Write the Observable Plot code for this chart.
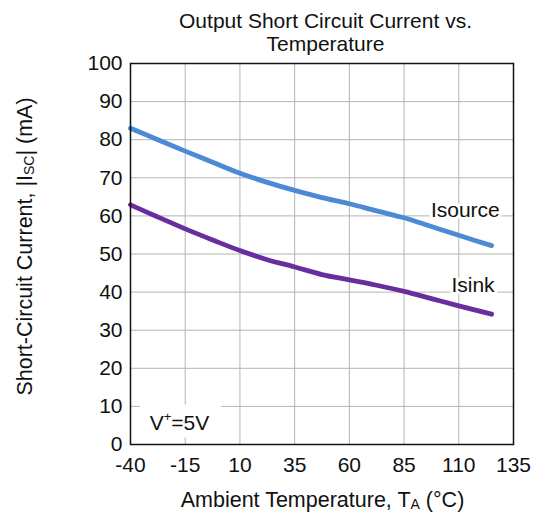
<!DOCTYPE html>
<html>
<head>
<meta charset="utf-8">
<script src="https://cdn.jsdelivr.net/npm/d3@7"></script>
<script src="https://cdn.jsdelivr.net/npm/@observablehq/plot@0.6"></script>
<style>
  html, body { margin: 0; padding: 0; background: #fff; }
  svg { font-family: "Liberation Sans", Arial, sans-serif; }
</style>
</head>
<body>
<div id="chart"></div>
<script>
const temps = [-40, -27.5, -15, -2.5, 10, 22.5, 35, 47.5, 60, 72.5, 85, 97.5, 110, 125];
const isource = [83, 80, 77, 74.1, 71.2, 68.8, 66.7, 64.8, 63.2, 61.3, 59.5, 57.2, 54.9, 52.2];
const isink = [62.9, 59.7, 56.6, 53.7, 50.9, 48.5, 46.6, 44.6, 43.2, 41.8, 40.2, 38.3, 36.4, 34.2];
const xTicks = [-40, -15, 10, 35, 60, 85, 110, 135];
const yTicks = [0, 10, 20, 30, 40, 50, 60, 70, 80, 90, 100];
const seriesLabels = [
  {name: "Isource", t: 113, v: 61.5},
  {name: "Isink", t: 116.5, v: 41.8}
];
const noteLabel = {t: -31, v: 3.8};

const rows = [];
temps.forEach((t, i) => {
  rows.push({t, v: isource[i], s: "Isource"});
  rows.push({t, v: isink[i], s: "Isink"});
});

const chart = Plot.plot({
  width: 541,
  height: 516,
  marginLeft: 130,
  marginRight: 28,
  marginTop: 63,
  marginBottom: 72,
  style: {fontFamily: "Liberation Sans, Arial, sans-serif", background: "#fff"},
  x: {domain: [-40, 135], ticks: xTicks, label: null},
  y: {domain: [0, 100], ticks: yTicks, label: null},
  color: {domain: ["Isource", "Isink"], range: ["#4d8ad5", "#6a2d9f"]},
  marks: [
    Plot.gridX(xTicks, {stroke: "#b4b4b4", strokeOpacity: 1, strokeWidth: 1}),
    Plot.gridY(yTicks, {stroke: "#b4b4b4", strokeOpacity: 1, strokeWidth: 1}),
    Plot.axisX(xTicks, {tickSize: 0, tickPadding: 13, fontSize: 21, fill: "#111", tickFormat: d => String(d)}),
    Plot.axisY(yTicks, {tickSize: 0, tickPadding: 8, fontSize: 21, fill: "#111", tickFormat: d => String(d)}),
    Plot.line(rows, {x: "t", y: "v", z: "s", stroke: "s", strokeWidth: 4.8, curve: "catmull-rom"}),
    Plot.text(seriesLabels, {x: "t", y: "v", text: "name", fontSize: 21, fill: "#111", stroke: "white", strokeWidth: 6}),
    Plot.frame({stroke: "#111", strokeWidth: 1.5})
  ]
});

document.getElementById("chart").appendChild(chart);

const svg = d3.select(chart);
const xs = chart.scale("x"), ys = chart.scale("y");
const cx = (xs.range[0] + xs.range[1]) / 2;
const cy = (ys.range[0] + ys.range[1]) / 2;

// note V+=5V with white box
const noteG = svg.append("g");
const note = noteG.append("text")
  .attr("text-anchor", "start")
  .attr("x", xs.apply(noteLabel.t))
  .attr("y", ys.apply(noteLabel.v))
  .attr("font-size", 21).attr("fill", "#111");
note.append("tspan").text("V");
note.append("tspan").attr("font-size", 13).attr("dy", -9).text("+");
note.append("tspan").attr("dy", 9).text("=5V");
const bb = note.node().getBBox();
noteG.insert("rect", "text")
  .attr("x", bb.x - 10).attr("y", bb.y - 4)
  .attr("width", bb.width + 22).attr("height", bb.height + 8)
  .attr("fill", "white");

// title
const title = svg.append("text").attr("text-anchor", "middle").attr("font-size", 21).attr("fill", "#111");
title.append("tspan").attr("x", cx + 4).attr("y", 28).text("Output Short Circuit Current vs.");
title.append("tspan").attr("x", cx + 4).attr("y", 51).text("Temperature");

// x label
const xl = svg.append("text").attr("text-anchor", "middle").attr("font-size", 21.5).attr("fill", "#111")
  .attr("x", cx + 1).attr("y", 507);
xl.append("tspan").text("Ambient Temperature, T");
xl.append("tspan").attr("font-size", 14).attr("dy", 2).text("A");
xl.append("tspan").attr("dy", -2).text(" (°C)");

// y label
const yl = svg.append("text").attr("text-anchor", "middle").attr("font-size", 21.5).attr("fill", "#111")
  .attr("transform", `translate(32,${cy - 7}) rotate(-90)`);
yl.append("tspan").text("Short-Circuit Current, |I");
yl.append("tspan").attr("font-size", 14).attr("dy", 2).text("SC");
yl.append("tspan").attr("dy", -2).text("| (mA)");
</script>
</body>
</html>
